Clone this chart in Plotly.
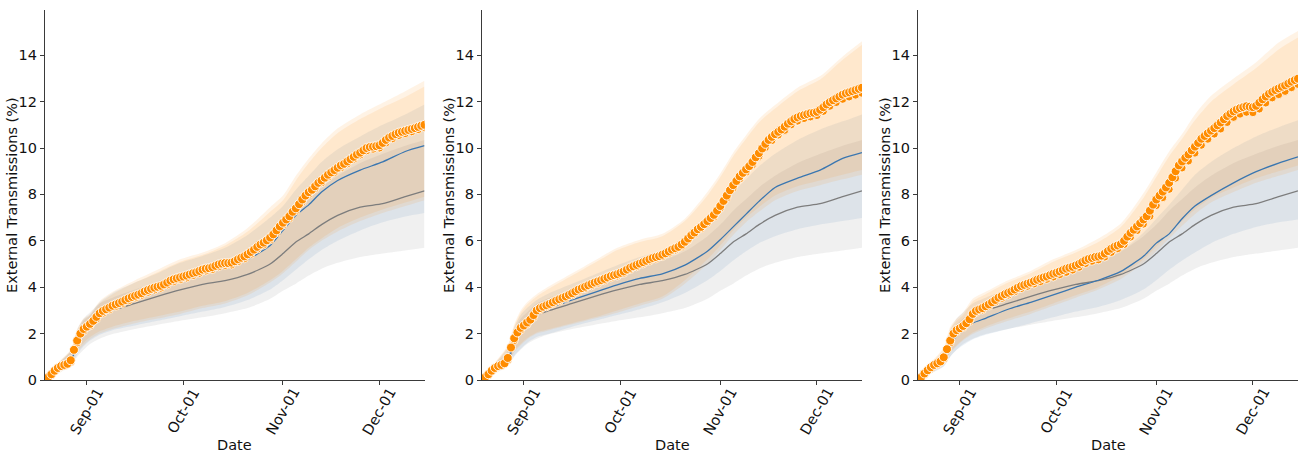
import pandas as pd
import plotly.graph_objects as go

# ---------------------------------------------------------------- data
START = "2020-08-19"
DAYS = pd.date_range(START, periods=119, freq="D")
EVEN_DAYS = DAYS[::2]

# sample days (offset from start) used for the reference lines and bands
GRID_OFFSETS = [0, 4, 8, 10, 12, 14, 17, 21, 28, 35, 42, 49, 56, 63, 70, 74,
                78, 82, 86, 91, 98, 105, 112, 118]
GRID = [pd.Timestamp(START) + pd.Timedelta(days=d) for d in GRID_OFFSETS]

TICK_DATES = ["2020-09-01", "2020-10-01", "2020-11-01", "2020-12-01"]
TICK_TEXT = ["Sep-01", "Oct-01", "Nov-01", "Dec-01"]
Y_TICKS = [0, 2, 4, 6, 8, 10, 12, 14]
X_TITLE = "Date"
Y_TITLE = "External Transmissions (%)"

# baseline scenario (same in every panel)
BASE_MEAN = [0, 0.5, 0.8, 1.6, 2.05, 2.3, 2.8, 3.0, 3.3, 3.6, 3.88, 4.12, 4.28,
             4.55, 5.0, 5.45, 5.95, 6.3, 6.7, 7.1, 7.45, 7.6, 7.9, 8.15]
BASE_LO = [0, 0.28, 0.58, 1.0, 1.3, 1.55, 1.78, 1.98, 2.2, 2.38, 2.55, 2.7, 2.88,
           3.1, 3.5, 3.85, 4.15, 4.5, 4.8, 5.05, 5.3, 5.45, 5.58, 5.7]
BASE_HI = [0, 0.68, 1.25, 2.15, 2.65, 2.92, 3.3, 3.55, 3.9, 4.25, 4.6, 4.9, 5.15,
           5.55, 6.2, 6.7, 7.3, 7.8, 8.3, 8.8, 9.35, 9.75, 10.1, 10.35]

# ---- panel 1
P1_ORANGE = [0.00, 0.12, 0.25, 0.40, 0.52, 0.60, 0.65, 0.70, 0.85, 1.30,
             1.70, 2.00, 2.20, 2.30, 2.42, 2.55, 2.72, 2.88, 2.98, 3.05,
             3.12, 3.20, 3.26, 3.32, 3.38, 3.45, 3.52, 3.58, 3.63, 3.68,
             3.74, 3.82, 3.88, 3.93, 3.98, 4.02, 4.06, 4.12, 4.20, 4.28,
             4.34, 4.38, 4.42, 4.46, 4.50, 4.55, 4.60, 4.64, 4.70, 4.76,
             4.80, 4.82, 4.86, 4.92, 4.98, 5.02, 5.04, 5.04, 5.06, 5.12,
             5.20, 5.27, 5.33, 5.42, 5.52, 5.62, 5.74, 5.84, 5.92, 6.02,
             6.14, 6.28, 6.45, 6.62, 6.78, 6.92, 7.06, 7.25, 7.40, 7.58,
             7.78, 7.95, 8.10, 8.20, 8.35, 8.50, 8.60, 8.72, 8.85, 8.95,
             9.05, 9.15, 9.25, 9.32, 9.42, 9.52, 9.62, 9.72, 9.80, 9.90,
             10.00, 10.04, 10.06, 10.08, 10.12, 10.22, 10.35, 10.45, 10.52, 10.60,
             10.66, 10.70, 10.74, 10.78, 10.82, 10.86, 10.91, 10.96, 11.00]
P1_ORANGE_ALT = [0.00, 0.22, 0.48, 0.60, 0.78, 1.60, 2.10, 2.33, 2.62, 2.88,
                 3.03, 3.17, 3.29, 3.42, 3.54, 3.65, 3.78, 3.88, 3.96, 4.10,
                 4.24, 4.32, 4.40, 4.50, 4.60, 4.70, 4.76, 4.88, 4.94, 4.96,
                 5.10, 5.23, 5.42, 5.64, 5.82, 6.04, 6.35, 6.68, 6.96, 7.30,
                 7.68, 8.00, 8.25, 8.50, 8.75, 8.95, 9.15, 9.32, 9.52, 9.70,
                 9.88, 9.95, 10.00, 10.22, 10.40, 10.54, 10.62, 10.70, 10.79, 10.88]
P1_BLUE = [0, 0.5, 0.8, 1.6, 2.12, 2.35, 2.82, 3.12, 3.53, 3.92, 4.32, 4.66, 4.9,
           5.2, 5.8, 6.45, 7.1, 7.55, 8.1, 8.6, 9.05, 9.4, 9.85, 10.1]
P1_BLUE_LO = [0, 0.33, 0.65, 1.1, 1.45, 1.7, 1.95, 2.15, 2.35, 2.55, 2.75, 2.95,
              3.15, 3.45, 3.9, 4.3, 4.75, 5.2, 5.6, 6.0, 6.45, 6.8, 7.05, 7.2]
P1_BLUE_HI = [0, 0.7, 1.28, 2.15, 2.6, 2.8, 3.35, 3.75, 4.2, 4.6, 5.05, 5.35,
              5.7, 6.25, 7.0, 7.5, 8.2, 8.8, 9.4, 9.95, 10.5, 11.0, 11.45, 11.88]
P1_OR_LO = [0, 0.35, 0.7, 1.2, 1.5, 1.75, 2.0, 2.2, 2.45, 2.65, 2.85, 3.1, 3.3,
            3.65, 4.2, 4.6, 5.1, 5.6, 6.0, 6.4, 6.85, 7.2, 7.5, 7.75]
P1_OR_HI = [0, 0.75, 1.3, 2.2, 2.65, 2.85, 3.4, 3.8, 4.3, 4.75, 5.2, 5.5, 5.9,
            6.55, 7.45, 7.95, 8.8, 9.55, 10.2, 10.85, 11.45, 11.95, 12.45, 12.9]
P1_OR_ALT_LO = [0, 0.4, 0.75, 1.3, 1.6, 1.85, 2.1, 2.3, 2.55, 2.75, 2.95, 3.2,
                3.4, 3.75, 4.3, 4.7, 5.2, 5.7, 6.1, 6.55, 7.0, 7.35, 7.65, 7.9]
P1_OR_ALT_HI = [0, 0.7, 1.25, 2.1, 2.55, 2.78, 3.3, 3.7, 4.2, 4.65, 5.1, 5.4,
                5.8, 6.4, 7.25, 7.75, 8.6, 9.35, 10.0, 10.65, 11.25, 11.75, 12.2, 12.65]

# ---- panel 2
P2_ORANGE = [0.00, 0.12, 0.25, 0.40, 0.52, 0.60, 0.65, 0.72, 0.95, 1.40,
             1.80, 2.05, 2.25, 2.35, 2.48, 2.60, 2.80, 3.00, 3.10, 3.16,
             3.22, 3.28, 3.35, 3.42, 3.48, 3.54, 3.60, 3.67, 3.74, 3.82,
             3.90, 3.96, 4.02, 4.08, 4.14, 4.20, 4.25, 4.30, 4.36, 4.42,
             4.48, 4.52, 4.56, 4.62, 4.68, 4.76, 4.84, 4.90, 4.96, 5.02,
             5.08, 5.14, 5.20, 5.26, 5.30, 5.34, 5.40, 5.46, 5.54, 5.62,
             5.68, 5.74, 5.84, 5.96, 6.10, 6.24, 6.36, 6.50, 6.60, 6.72,
             6.85, 6.98, 7.12, 7.30, 7.50, 7.72, 7.95, 8.18, 8.40, 8.58,
             8.78, 8.93, 9.08, 9.22, 9.40, 9.60, 9.78, 9.98, 10.18, 10.35,
             10.48, 10.60, 10.70, 10.80, 10.92, 11.05, 11.15, 11.25, 11.32, 11.38,
             11.42, 11.46, 11.50, 11.52, 11.56, 11.65, 11.76, 11.88, 11.98, 12.06,
             12.14, 12.22, 12.30, 12.36, 12.40, 12.45, 12.50, 12.55, 12.60]
P2_ORANGE_ALT = [0.00, 0.22, 0.48, 0.60, 0.86, 1.70, 2.15, 2.40, 2.70, 3.02,
                 3.15, 3.28, 3.40, 3.52, 3.66, 3.82, 3.94, 4.06, 4.17, 4.28,
                 4.40, 4.48, 4.60, 4.76, 4.88, 5.00, 5.12, 5.22, 5.32, 5.46,
                 5.60, 5.76, 6.02, 6.28, 6.52, 6.76, 7.02, 7.40, 7.84, 8.28,
                 8.66, 8.96, 9.28, 9.64, 10.02, 10.32, 10.56, 10.76, 11.00, 11.16,
                 11.27, 11.34, 11.40, 11.58, 11.80, 11.96, 12.10, 12.20, 12.28, 12.36]
P2_BLUE = [0, 0.5, 0.9, 1.7, 2.15, 2.4, 2.85, 3.1, 3.45, 3.78, 4.1, 4.38, 4.58,
           4.95, 5.55, 6.05, 6.6, 7.15, 7.7, 8.3, 8.7, 9.05, 9.55, 9.8]
P2_BLUE_LO = [0, 0.3, 0.62, 1.05, 1.35, 1.6, 1.85, 2.0, 2.3, 2.55, 2.8, 3.05,
              3.35, 3.75, 4.3, 4.7, 5.15, 5.55, 5.9, 6.2, 6.5, 6.7, 6.85, 6.98]
P2_BLUE_HI = [0, 0.7, 1.4, 2.25, 2.8, 3.1, 3.45, 3.75, 4.15, 4.55, 4.95, 5.3,
              5.6, 6.1, 6.9, 7.45, 8.1, 8.65, 9.2, 9.75, 10.35, 10.8, 11.15, 11.45]
P2_OR_LO = [0, 0.35, 0.7, 1.25, 1.55, 1.8, 2.05, 2.2, 2.45, 2.7, 3.0, 3.3, 3.6,
            4.3, 5.2, 5.8, 6.45, 7.0, 7.45, 7.95, 8.35, 8.6, 8.85, 9.05]
P2_OR_HI = [0, 0.75, 1.5, 2.4, 3.0, 3.35, 3.7, 4.05, 4.6, 5.15, 5.7, 6.05, 6.3,
            6.95, 8.1, 8.9, 9.8, 10.55, 11.25, 11.85, 12.6, 13.1, 13.95, 14.6]
P2_OR_ALT_LO = [0, 0.33, 0.68, 1.2, 1.5, 1.75, 2.0, 2.15, 2.4, 2.65, 2.9, 3.2,
                3.5, 4.15, 5.0, 5.6, 6.25, 6.8, 7.25, 7.75, 8.15, 8.4, 8.65, 8.85]
P2_OR_ALT_HI = [0, 0.7, 1.45, 2.3, 2.9, 3.25, 3.6, 3.95, 4.5, 5.05, 5.6, 5.95,
                6.2, 6.85, 7.95, 8.75, 9.65, 10.4, 11.1, 11.7, 12.45, 12.95, 13.8, 14.45]

# ---- panel 3
P3_ORANGE = [0.00, 0.12, 0.28, 0.42, 0.55, 0.65, 0.72, 0.80, 0.98, 1.33,
             1.70, 2.00, 2.15, 2.23, 2.33, 2.45, 2.62, 2.85, 2.98, 3.04,
             3.10, 3.18, 3.26, 3.35, 3.45, 3.55, 3.62, 3.70, 3.76, 3.82,
             3.90, 3.98, 4.05, 4.10, 4.15, 4.20, 4.26, 4.32, 4.37, 4.42,
             4.46, 4.52, 4.58, 4.62, 4.68, 4.74, 4.80, 4.84, 4.88, 4.94,
             5.00, 5.08, 5.16, 5.22, 5.26, 5.30, 5.32, 5.36, 5.45, 5.56,
             5.66, 5.74, 5.80, 5.86, 6.00, 6.18, 6.34, 6.48, 6.62, 6.76,
             6.92, 7.06, 7.30, 7.56, 7.78, 7.95, 8.12, 8.30, 8.50, 8.74,
             9.00, 9.25, 9.42, 9.58, 9.72, 9.90, 10.06, 10.22, 10.40, 10.52,
             10.64, 10.75, 10.86, 10.98, 11.10, 11.24, 11.38, 11.48, 11.58, 11.66,
             11.72, 11.76, 11.80, 11.78, 11.76, 11.82, 11.96, 12.10, 12.22, 12.34,
             12.42, 12.50, 12.57, 12.64, 12.70, 12.78, 12.86, 12.93, 12.99]
P3_ORANGE_ALT = [0.00, 0.24, 0.50, 0.66, 0.90, 1.60, 2.08, 2.26, 2.52, 2.90,
                 3.02, 3.18, 3.36, 3.52, 3.66, 3.80, 3.94, 4.04, 4.14, 4.24,
                 4.34, 4.44, 4.54, 4.64, 4.74, 4.86, 5.02, 5.12, 5.18, 5.30,
                 5.50, 5.66, 5.84, 6.16, 6.44, 6.72, 7.06, 7.52, 7.86, 8.22,
                 8.70, 9.14, 9.44, 9.78, 10.12, 10.38, 10.60, 10.82, 11.10, 11.32,
                 11.46, 11.54, 11.52, 11.68, 11.94, 12.16, 12.30, 12.44, 12.60, 12.74]
P3_BLUE = [0, 0.5, 0.9, 1.55, 1.9, 2.15, 2.45, 2.66, 3.05, 3.35, 3.67, 4.0, 4.3,
           4.68, 5.33, 5.9, 6.3, 6.95, 7.5, 7.95, 8.5, 8.98, 9.35, 9.62]
P3_BLUE_LO = [0, 0.3, 0.6, 1.0, 1.3, 1.5, 1.75, 1.95, 2.2, 2.45, 2.7, 2.95, 3.15,
              3.45, 3.9, 4.3, 4.75, 5.15, 5.5, 5.9, 6.3, 6.6, 6.8, 6.92]
P3_BLUE_HI = [0, 0.65, 1.2, 2.0, 2.4, 2.65, 2.95, 3.2, 3.6, 3.95, 4.3, 4.7, 5.05,
              5.55, 6.35, 6.95, 7.55, 8.2, 8.85, 9.4, 10.0, 10.5, 10.9, 11.2]
P3_OR_LO = [0, 0.35, 0.7, 1.2, 1.5, 1.75, 2.05, 2.3, 2.65, 2.95, 3.3, 3.65, 4.0,
            4.5, 5.2, 5.75, 6.3, 6.85, 7.35, 7.85, 8.3, 8.7, 9.0, 9.25]
P3_OR_HI = [0, 0.75, 1.4, 2.3, 2.65, 2.9, 3.5, 3.8, 4.3, 4.7, 5.2, 5.6, 6.1,
            6.75, 8.05, 8.95, 9.85, 10.6, 11.45, 12.25, 13.0, 13.7, 14.55, 15.05]
P3_OR_ALT_LO = [0, 0.33, 0.66, 1.15, 1.45, 1.7, 1.98, 2.22, 2.55, 2.85, 3.2, 3.55,
                3.9, 4.35, 5.05, 5.55, 6.1, 6.65, 7.15, 7.65, 8.1, 8.5, 8.8, 9.05]
P3_OR_ALT_HI = [0, 0.7, 1.35, 2.2, 2.55, 2.8, 3.4, 3.7, 4.2, 4.6, 5.1, 5.5, 5.95,
                6.6, 7.85, 8.75, 9.65, 10.4, 11.2, 12.0, 12.75, 13.45, 14.25, 14.76]

PANELS = [
    dict(orange=P1_ORANGE, orange_alt=P1_ORANGE_ALT, blue=P1_BLUE,
         blue_lo=P1_BLUE_LO, blue_hi=P1_BLUE_HI, or_lo=P1_OR_LO, or_hi=P1_OR_HI,
         or_alt_lo=P1_OR_ALT_LO, or_alt_hi=P1_OR_ALT_HI),
    dict(orange=P2_ORANGE, orange_alt=P2_ORANGE_ALT, blue=P2_BLUE,
         blue_lo=P2_BLUE_LO, blue_hi=P2_BLUE_HI, or_lo=P2_OR_LO, or_hi=P2_OR_HI,
         or_alt_lo=P2_OR_ALT_LO, or_alt_hi=P2_OR_ALT_HI),
    dict(orange=P3_ORANGE, orange_alt=P3_ORANGE_ALT, blue=P3_BLUE,
         blue_lo=P3_BLUE_LO, blue_hi=P3_BLUE_HI, or_lo=P3_OR_LO, or_hi=P3_OR_HI,
         or_alt_lo=P3_OR_ALT_LO, or_alt_hi=P3_OR_ALT_HI),
]

# ---------------------------------------------------------------- style
W, H = 1309, 455
X_SPANS = [(45, 424.5), (482, 862), (918, 1298)]   # pixel extents of each panel
Y_SPAN = (10, 380)
FONT = "DejaVu Sans"
FONT_SIZE = 14.5
TEXT_COLOR = "#111111"
AXIS_COLOR = "#3a3a3a"

ORANGE = "#ff8c00"
BLUE = "#3a76b0"
GRAY = "#7d7d7d"
FILL_GRAY = "rgba(128,128,128,0.12)"
FILL_BLUE = "rgba(58,118,176,0.10)"
FILL_ORANGE = "rgba(255,140,0,0.10)"

fig = go.Figure()
text_font = dict(family=FONT, size=FONT_SIZE, color=TEXT_COLOR)


def band(x, lo, hi, color, xa, ya):
    common = dict(x=x, mode="lines", hoverinfo="skip", showlegend=False,
                  xaxis=xa, yaxis=ya,
                  line=dict(width=0, shape="spline", smoothing=0.7))
    fig.add_trace(go.Scatter(y=lo, **common))
    fig.add_trace(go.Scatter(y=hi, fill="tonexty", fillcolor=color, **common))


annotations = []
for i, p in enumerate(PANELS):
    sfx = "" if i == 0 else str(i + 1)
    xa, ya = "x" + sfx, "y" + sfx

    band(GRID, BASE_LO, BASE_HI, FILL_GRAY, xa, ya)
    band(GRID, p["blue_lo"], p["blue_hi"], FILL_BLUE, xa, ya)
    band(GRID, p["or_alt_lo"], p["or_alt_hi"], FILL_ORANGE, xa, ya)
    band(GRID, p["or_lo"], p["or_hi"], FILL_ORANGE, xa, ya)

    fig.add_trace(go.Scatter(x=GRID, y=BASE_MEAN, mode="lines", showlegend=False,
                             line=dict(color=GRAY, width=1.3, shape="spline",
                                       smoothing=0.6),
                             xaxis=xa, yaxis=ya))
    fig.add_trace(go.Scatter(x=GRID, y=p["blue"], mode="lines", showlegend=False,
                             line=dict(color=BLUE, width=1.3, shape="spline",
                                       smoothing=0.6),
                             xaxis=xa, yaxis=ya))
    fig.add_trace(go.Scatter(x=EVEN_DAYS, y=p["orange_alt"], mode="markers",
                             showlegend=False,
                             marker=dict(size=8, color=ORANGE,
                                         line=dict(color="white", width=0.8)),
                             xaxis=xa, yaxis=ya))
    fig.add_trace(go.Scatter(x=DAYS, y=p["orange"], mode="markers",
                             showlegend=False,
                             marker=dict(size=9, color=ORANGE,
                                         line=dict(color="white", width=0.9)),
                             xaxis=xa, yaxis=ya))

    x0, x1 = X_SPANS[i]
    axis_common = dict(showline=True, linecolor=AXIS_COLOR, linewidth=1.2,
                       ticks="outside", ticklen=4, tickwidth=1.1,
                       tickcolor=AXIS_COLOR, showgrid=False, zeroline=False,
                       automargin=False, tickfont=text_font)
    fig.update_layout(**{
        "xaxis" + sfx: dict(
            domain=[x0 / W, x1 / W], anchor=ya, type="date",
            range=[DAYS[0], DAYS[-1]], tickvals=TICK_DATES,
            showticklabels=False, **axis_common),
        "yaxis" + sfx: dict(
            domain=[1 - Y_SPAN[1] / H, 1 - Y_SPAN[0] / H], anchor=xa,
            range=[0, 15.95], tickvals=Y_TICKS, **axis_common),
    })

    # date labels rotated about their centre, sitting under each tick
    for d, t in zip(TICK_DATES, TICK_TEXT):
        annotations.append(dict(x=d, xref=xa, y=1 - 411 / H, yref="paper",
                                text=t, textangle=-60, showarrow=False,
                                xanchor="center", yanchor="middle",
                                font=text_font))
    annotations.append(dict(x=(x0 + x1) / 2 / W, xref="paper", y=1 - 445 / H,
                            yref="paper", text=X_TITLE, showarrow=False,
                            xanchor="center", yanchor="middle", font=text_font))
    annotations.append(dict(x=(x0 - 33) / W, xref="paper",
                            y=1 - (Y_SPAN[0] + Y_SPAN[1]) / 2 / H, yref="paper",
                            text=Y_TITLE, textangle=-90, showarrow=False,
                            xanchor="center", yanchor="middle", font=text_font))

fig.update_layout(width=W, height=H, margin=dict(l=0, r=0, t=0, b=0),
                  paper_bgcolor="white", plot_bgcolor="white",
                  showlegend=False, font=dict(family=FONT),
                  annotations=annotations)

fig.write_html("out.html")
